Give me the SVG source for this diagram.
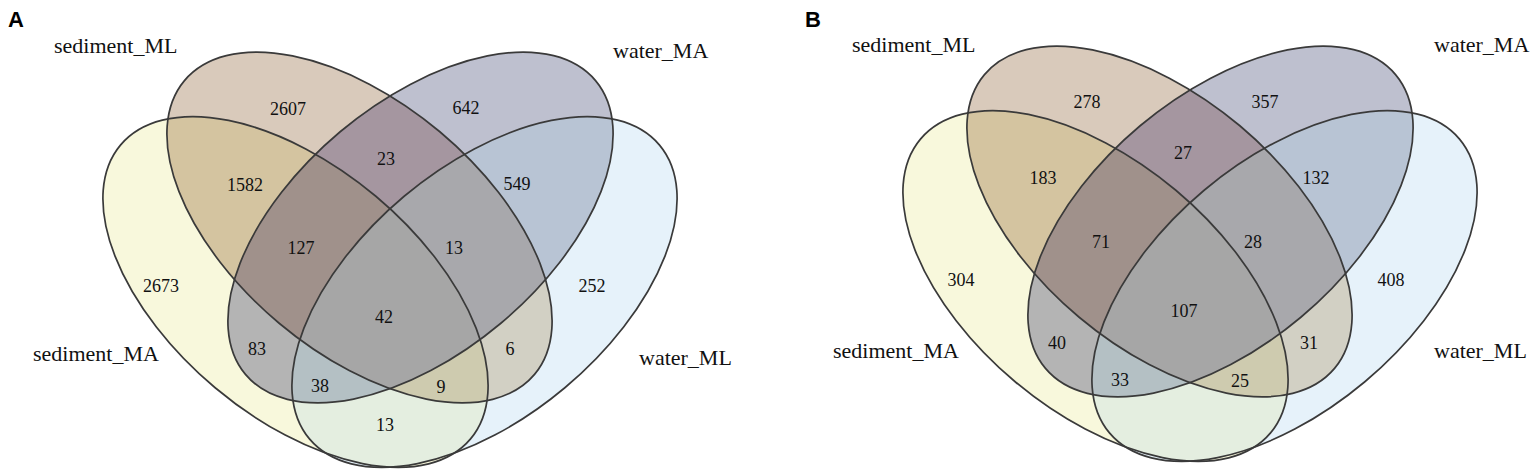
<svg xmlns="http://www.w3.org/2000/svg" xmlns:xlink="http://www.w3.org/1999/xlink" width="1535" height="475" viewBox="0 0 1535 475">
<style>
.ol{fill:none;stroke:#3a3a3a;stroke-width:1.7}
.lab{font-family:"Liberation Serif","Times New Roman",serif;font-size:22px;fill:#111}
.num{font-family:"Liberation Serif","Times New Roman",serif;font-size:18px;fill:#111;text-anchor:middle}
.pl{font-family:"Liberation Sans",Arial,sans-serif;font-size:22px;font-weight:bold;fill:#000}
</style>
<defs>
<ellipse id="e1" cx="295.5" cy="292" rx="228.5" ry="125" transform="rotate(40 295.5 292)"/>
<ellipse id="e2" cx="359.5" cy="227.5" rx="228.5" ry="125" transform="rotate(40 359.5 227.5)"/>
<ellipse id="e3" cx="420.5" cy="227.5" rx="228.5" ry="125" transform="rotate(-40 420.5 227.5)"/>
<ellipse id="e4" cx="484.5" cy="292" rx="228.5" ry="125" transform="rotate(-40 484.5 292)"/>
<clipPath id="c2"><use xlink:href="#e2"/></clipPath>
<clipPath id="c3"><use xlink:href="#e3"/></clipPath>
<clipPath id="c4"><use xlink:href="#e4"/></clipPath>
<g id="regions">
<use xlink:href="#e1" fill="#f8f8dc"/>
<use xlink:href="#e2" fill="#d9cabb"/>
<use xlink:href="#e3" fill="#bec0cf"/>
<use xlink:href="#e4" fill="#e6f2fa"/>
<g clip-path="url(#c2)"><use xlink:href="#e1" fill="#d4c4a0"/></g>
<g clip-path="url(#c3)"><use xlink:href="#e1" fill="#b4b4b4"/></g>
<g clip-path="url(#c4)"><use xlink:href="#e1" fill="#e4eee0"/></g>
<g clip-path="url(#c3)"><use xlink:href="#e2" fill="#a596a0"/></g>
<g clip-path="url(#c4)"><use xlink:href="#e2" fill="#d2d0c4"/></g>
<g clip-path="url(#c4)"><use xlink:href="#e3" fill="#b8c4d4"/></g>
<g clip-path="url(#c2)"><g clip-path="url(#c3)"><use xlink:href="#e1" fill="#a0918b"/></g></g>
<g clip-path="url(#c2)"><g clip-path="url(#c4)"><use xlink:href="#e1" fill="#cecbaf"/></g></g>
<g clip-path="url(#c3)"><g clip-path="url(#c4)"><use xlink:href="#e1" fill="#b4c0c4"/></g></g>
<g clip-path="url(#c3)"><g clip-path="url(#c4)"><use xlink:href="#e2" fill="#a8a8ac"/></g></g>
<g clip-path="url(#c2)"><g clip-path="url(#c3)"><g clip-path="url(#c4)"><use xlink:href="#e1" fill="#a6a6a6"/></g></g></g>
</g>
</defs>

<g id="panelA">
<text class="pl" x="8" y="27">A</text>
<use id="A-regions" xlink:href="#regions"/>
<g id="A-sediment_MA"><use xlink:href="#e1" class="ol"/><text class="lab" x="33" y="361">sediment_MA</text></g>
<g id="A-sediment_ML"><use xlink:href="#e2" class="ol"/><text class="lab" x="54" y="53">sediment_ML</text></g>
<g id="A-water_MA"><use xlink:href="#e3" class="ol"/><text class="lab" x="613" y="58">water_MA</text></g>
<g id="A-water_ML"><use xlink:href="#e4" class="ol"/><text class="lab" x="639" y="365">water_ML</text></g>
<g id="A-counts">
<text class="num" x="288" y="115">2607</text>
<text class="num" x="466" y="114">642</text>
<text class="num" x="245" y="191">1582</text>
<text class="num" x="386" y="165">23</text>
<text class="num" x="517" y="190">549</text>
<text class="num" x="161" y="292">2673</text>
<text class="num" x="301" y="254">127</text>
<text class="num" x="454" y="254">13</text>
<text class="num" x="592" y="292">252</text>
<text class="num" x="384" y="323">42</text>
<text class="num" x="257" y="355">83</text>
<text class="num" x="510" y="355">6</text>
<text class="num" x="320" y="392">38</text>
<text class="num" x="441" y="393">9</text>
<text class="num" x="385" y="431">13</text>
</g>
</g>

<g id="panelB">
<text class="pl" x="805" y="27">B</text>
<g transform="translate(800,-6)">
<use id="B-regions" xlink:href="#regions"/>
<g id="B-sediment_MA"><use xlink:href="#e1" class="ol"/><text class="lab" x="33" y="364">sediment_MA</text></g>
<g id="B-sediment_ML"><use xlink:href="#e2" class="ol"/><text class="lab" x="52" y="58">sediment_ML</text></g>
<g id="B-water_MA"><use xlink:href="#e3" class="ol"/><text class="lab" x="634" y="58">water_MA</text></g>
<g id="B-water_ML"><use xlink:href="#e4" class="ol"/><text class="lab" x="634" y="364">water_ML</text></g>
<g id="B-counts">
<text class="num" x="287" y="114">278</text>
<text class="num" x="465" y="114">357</text>
<text class="num" x="243" y="190">183</text>
<text class="num" x="383" y="165">27</text>
<text class="num" x="516" y="190">132</text>
<text class="num" x="161" y="292">304</text>
<text class="num" x="301" y="254">71</text>
<text class="num" x="453" y="254">28</text>
<text class="num" x="591" y="292">408</text>
<text class="num" x="384" y="323">107</text>
<text class="num" x="257" y="355">40</text>
<text class="num" x="509" y="355">31</text>
<text class="num" x="320" y="392">33</text>
<text class="num" x="440" y="393">25</text>
</g>
</g>
</g>
</svg>
